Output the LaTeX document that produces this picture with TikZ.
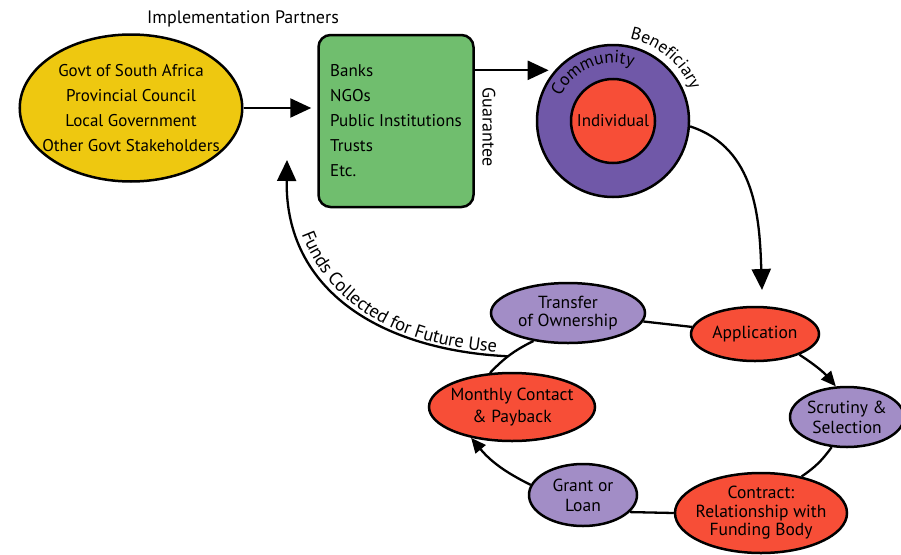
\documentclass[tikz,border=0pt]{standalone}
\usepackage{fontspec}
\setmainfont{PT Sans}
\usetikzlibrary{positioning,arrows.meta,shapes.geometric,decorations.text}

\definecolor{govtyellow}{RGB}{238,200,16}
\definecolor{partnergreen}{RGB}{112,190,110}
\definecolor{ringpurple}{RGB}{112,88,168}
\definecolor{stepred}{RGB}{247,78,55}
\definecolor{steplilac}{RGB}{162,141,198}

\begin{document}
\begin{tikzpicture}[x=1pt,y=1pt]
%styles
	\tikzset{
	txt/.style={font=\fontsize{17.5}{20}\selectfont},
	oval/.style={ellipse,draw,line width=2.5pt,inner sep=0pt,align=center,txt},
	arrow/.style={-{Triangle[length=21pt,width=19pt]}, line width=2.3pt},
	smallarrow/.style={-{Triangle[length=15pt,width=13pt]}, line width=2.3pt},
	link/.style={line width=2.3pt}}

	\useasboundingbox (0,0) rectangle (901,-554);

%oben
	\node[font=\fontsize{18}{20}\selectfont] (title) at (243,-19) {Implementation Partners};
	\node[oval, fill=govtyellow, minimum width=222pt, minimum height=147pt, inner xsep=-10pt,
		font=\fontsize{17}{25}\selectfont] (govt) at (131,-108)
		{Govt of South Africa\\Provincial Council\\Local Government\\Other Govt Stakeholders};
	\node[draw, rounded corners=12pt, fill=partnergreen, line width=2.5pt,
		minimum width=155pt, minimum height=172pt, align=left,
		font=\fontsize{17}{25}\selectfont] (partners) at (396,-121)
		{Banks\\NGOs\\Public Institutions\\Trusts\\Etc.};
	\node[font=\fontsize{18}{20}\selectfont, rotate=-90] (guar) at (489,-127) {Guarantee};

	%Beneficiary
	\node[circle, draw, fill=ringpurple, line width=2.5pt, minimum size=152pt] (ring) at (613,-121) {};
	\node[circle, draw, fill=stepred, line width=2.5pt, minimum size=84pt, inner sep=0pt,
		font=\fontsize{17}{20}\selectfont] (indiv) at (ring.center) {Individual};
	\path[decorate, decoration={text along path, text align=center,
		text={|\fontsize{17.5}{20}\selectfont|Community}}]
		(ring.center) ++(165:58) arc[start angle=165, end angle=60, radius=58];
	\path[decorate, decoration={text along path, text align=center,
		text={|\fontsize{17.5}{20}\selectfont|Beneficiary}}]
		(ring.center) ++(92:84) arc[start angle=92, end angle=8, radius=84];

	\draw[arrow, shorten >=6pt] (govt.east) -- (partners.west |- govt.east);
	\draw[arrow, shorten >=6pt] (partners.east |- ring.139) -- (ring.139);

%unten
	\node[oval, fill=steplilac, minimum width=154pt, minimum height=60pt,
		font=\fontsize{17.5}{18.5}\selectfont] (transfer) at (568,-313) {Transfer\\of Ownership};
	\node[oval, fill=stepred, minimum width=128pt, minimum height=54pt] (appl) at (755,-334) {Application};
	\node[oval, fill=steplilac, minimum width=114pt, minimum height=60pt, inner xsep=-2pt] (scrut) at (847,-417) {Scrutiny \&\\Selection};
	\node[oval, fill=stepred, minimum width=172pt, minimum height=80pt, inner xsep=-6pt, inner ysep=-4pt,
		font=\fontsize{17.5}{18.5}\selectfont] (contract) at (761,-513) {Contract:\\Relationship with\\Funding Body};
	\node[oval, fill=steplilac, minimum width=108pt, minimum height=62pt] (grant) at (583,-495) {Grant or\\Loan};
	\node[oval, fill=stepred, minimum width=166pt, minimum height=68pt, inner xsep=-4pt,
		font=\fontsize{17.5}{22}\selectfont] (monthly) at (512,-407) {Monthly Contact\\\& Payback};

	%cycle
	\coordinate (applin) at (762,-290);
	\draw[arrow] (ring.-4) to[out=-18, in=92] (applin);
	\draw[link] (transfer) -- (appl);
	\draw[smallarrow] (appl.-25) to[bend left=8] (scrut.110);
	\draw[link] (scrut.243) to[bend left=10] (contract.42);
	\draw[link] (contract.180) -- (grant.-20);
	\draw[smallarrow] (grant.169) to[bend left=12] (monthly.-143);
	\draw[link] (monthly.123) to[bend left=10] coordinate[pos=0.45] (fundsfrom) (transfer.219);

	%Rueckfluss
	\coordinate (fundsto) at (287,-160);
	\draw[arrow] (fundsfrom) .. controls (380,-350) and (285,-290) .. (fundsto);
	\path[decorate, decoration={text along path, raise=3pt, text align={right, right indent=12pt},
		text={|\fontsize{18.5}{20}\selectfont|Funds Collected for Future Use}}]
		(fundsto) .. controls (285,-290) and (380,-350) .. (fundsfrom);
\end{tikzpicture}
\end{document}
